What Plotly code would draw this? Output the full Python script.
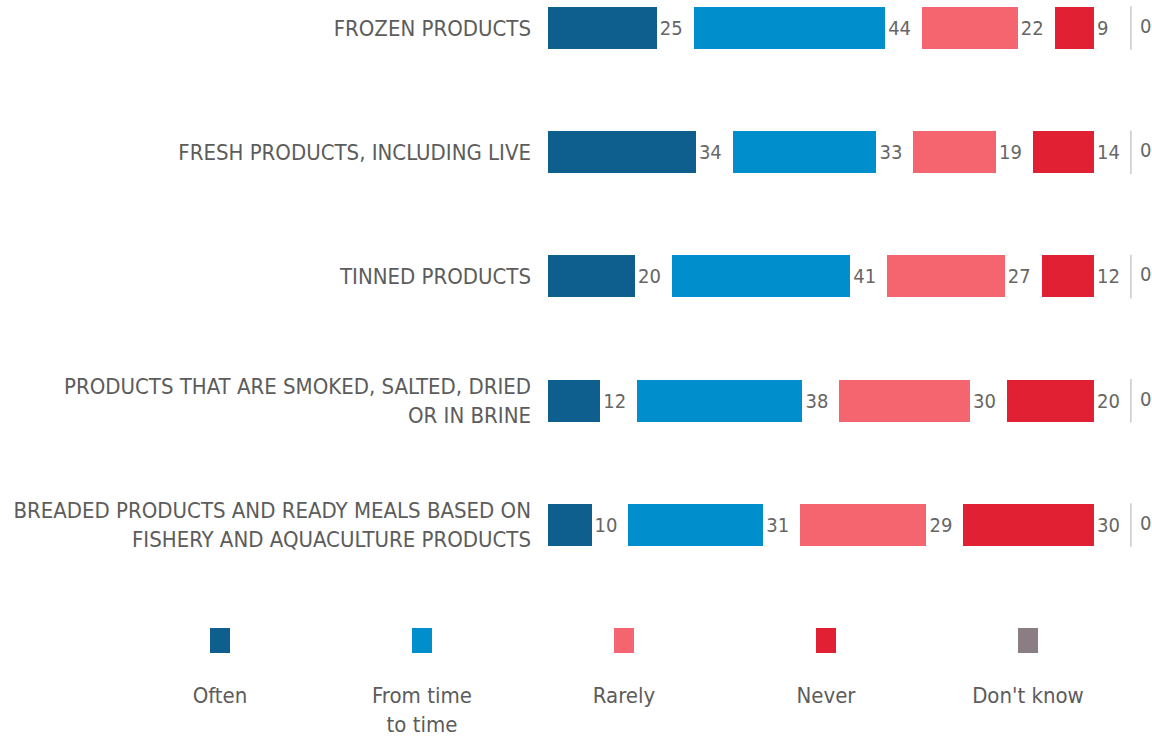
import plotly.graph_objects as go

categories = [
    "FROZEN PRODUCTS",
    "FRESH PRODUCTS, INCLUDING LIVE",
    "TINNED PRODUCTS",
    "PRODUCTS THAT ARE SMOKED, SALTED, DRIED<br>OR IN BRINE",
    "BREADED PRODUCTS AND READY MEALS BASED ON<br>FISHERY AND AQUACULTURE PRODUCTS",
]
series_names = ["Often", "From time to time", "Rarely", "Never", "Don't know"]
legend_labels = ["Often", "From time<br>to time", "Rarely", "Never", "Don't know"]
often = [25, 34, 20, 12, 10]
from_time_to_time = [44, 33, 41, 38, 31]
rarely = [22, 19, 27, 30, 29]
never = [9, 14, 12, 20, 30]
dont_know = [0, 0, 0, 0, 0]

colors = ["#0F5F8E", "#008FCC", "#F46570", "#E22034", "#8A7E84"]
FONT = "Liberation Sans Narrow, DejaVu Sans Condensed, Arial Narrow, sans-serif"
TXT = "#5c5c5c"
VAL = "#666666"
GAP = 8.5  # room for the value label after each segment

fig = go.Figure()
values = [often, from_time_to_time, rarely, never]
for name, vals, col in zip(series_names[:4], values, colors[:4]):
    fig.add_trace(go.Bar(
        y=categories, x=vals, orientation="h", name=name,
        marker=dict(color=col, line=dict(width=0)),
        hoverinfo="x+name", showlegend=False,
    ))
    # transparent spacer carrying the value label
    fig.add_trace(go.Bar(
        y=categories, x=[GAP] * len(vals), orientation="h",
        marker=dict(color="rgba(0,0,0,0)", line=dict(width=0)),
        text=[str(v) for v in vals], textposition="inside",
        insidetextanchor="start", constraintext="none",
        textfont=dict(family=FONT, size=20, color=VAL),
        hoverinfo="skip", showlegend=False,
    ))

# "Don't know" position at the end of each stacked row
ends = [sum(v[i] for v in values) + GAP * 4 + dont_know[i] for i in range(len(categories))]
fig.add_trace(go.Scatter(
    y=categories, x=ends, mode="markers",
    marker=dict(symbol="line-ns", size=31, line=dict(width=1.2, color="#bdbdbd")),
    hoverinfo="skip", showlegend=False,
))
fig.add_trace(go.Scatter(
    y=categories, x=ends, mode="text",
    text=["\u2002" + str(v) for v in dont_know], textposition="middle right",
    textfont=dict(family=FONT, size=20, color=VAL),
    hoverinfo="skip", showlegend=False,
))

# custom legend: swatches with labels below
idx = list(range(len(series_names)))
fig.add_trace(go.Bar(
    x=idx, y=[1] * len(idx), base=0, width=0.1,
    marker=dict(color=colors, line=dict(width=0)),
    xaxis="x2", yaxis="y2", hoverinfo="skip", showlegend=False,
))
fig.add_trace(go.Scatter(
    x=idx, y=[-1.35] * len(idx), mode="text", text=legend_labels,
    textposition="bottom center",
    textfont=dict(family=FONT, size=22, color=TXT),
    xaxis="x2", yaxis="y2", hoverinfo="skip", showlegend=False,
))

fig.update_layout(
    width=1152, height=741,
    margin=dict(l=0, r=0, t=0, b=0, autoexpand=False),
    paper_bgcolor="white", plot_bgcolor="white",
    barmode="stack", bargap=0.662,
    font=dict(family=FONT, color=TXT),
    xaxis=dict(domain=[548 / 1152, 1], range=[0, 138.85], visible=False,
               fixedrange=True, automargin=False),
    yaxis=dict(domain=[1 - 590 / 741, 1], range=[4.523, -0.225],
               showgrid=False, zeroline=False, showline=False, ticks="",
               ticklabelstandoff=16, automargin=False,
               tickfont=dict(family=FONT, size=22, color=TXT)),
    xaxis2=dict(domain=[0, 1], range=[-1.089, 4.614], visible=False,
                anchor="y2", automargin=False),
    yaxis2=dict(domain=[0, 1 - 590 / 741], range=[-3.52, 2.52], visible=False,
                anchor="x2", automargin=False),
    showlegend=False,
)

fig.write_html("out.html")
